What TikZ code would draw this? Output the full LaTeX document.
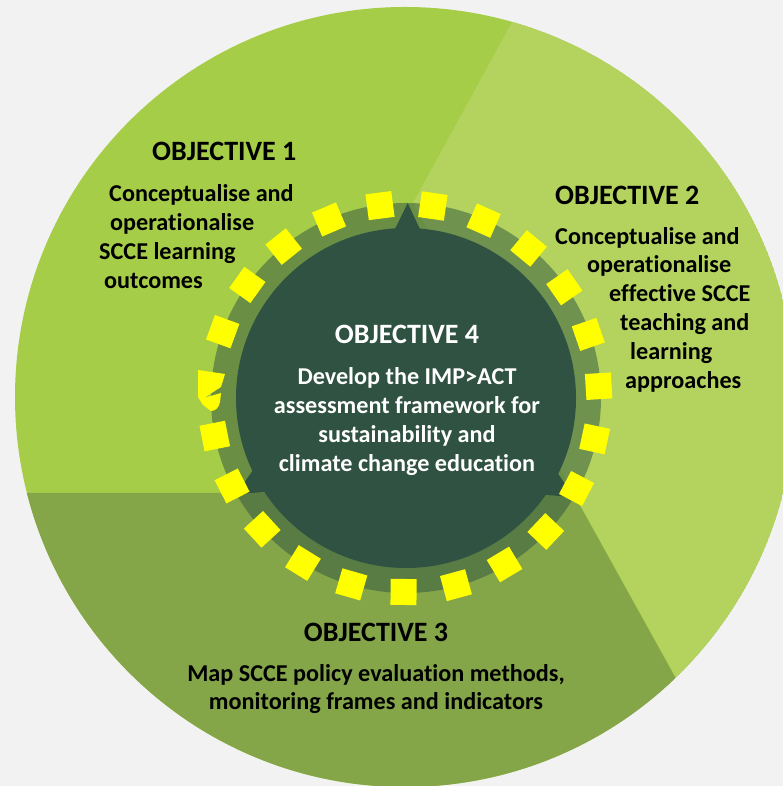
\documentclass[tikz,border=0pt]{standalone}
\usepackage{fontspec}
\setmainfont{Carlito}[Ligatures={NoCommon}]
\definecolor{bgc}{HTML}{F2F2F2}
\definecolor{objone}{HTML}{A6CD48}
\definecolor{objtwo}{HTML}{B3D35E}
\definecolor{objthree}{HTML}{84A648}
\definecolor{dkg}{HTML}{2F5242}
\definecolor{ylw}{HTML}{FFFF00}
\tikzset{
  ttl/.style={font=\fontsize{28}{32}\selectfont\bfseries, inner sep=0pt},
  body/.style={font=\fontsize{24.2}{29}\selectfont\bfseries, inner sep=0pt},
  ysq/.style={fill=ylw, minimum size=26pt, inner sep=0pt, rectangle},
}
\begin{document}
\begin{tikzpicture}[x=1pt,y=1pt]
\useasboundingbox (0,0) rectangle (783,786);
\fill[bgc] (0,0) rectangle (783,786);
\coordinate (C) at (406,388);
\begin{scope}
  \clip (405,389) circle (390);
  \fill[objone] (405,389) circle (390);
  \fill[objthree] (-10,293) -- (573,293) -- (1058,-582) -- (-10,-582) -- cycle;
  \fill[objtwo] (413,583) -- (689,1087) -- (1300,1087) -- (1300,-600) -- (995,-467) -- cycle;
\end{scope}
% ring
\fill[dkg, opacity=0.5] (C) circle (195);
% dark disc with arrowheads
\fill[dkg] (C) circle (170);
\foreach \t in {89.5,209.5,329.4}{
  \fill[dkg] ([shift={(\t:195)}]C) -- ([shift={(\t+4.7:167)}]C) -- ([shift={(\t-4.7:167)}]C) -- cycle;
}
% yellow dashes
\foreach \k in {0,...,22}{
  \ifnum\k=5\relax\else
  \pgfmathsetmacro\a{97.4+\k*15.652}
  \node[ysq, rotate=\a] (sq\k) at ([shift={(\a:194)}]405,388) {};
  \fi
}
\fill[ylw] (198,416) -- (225,412) -- (221,399) -- (204,388) -- (221,393) -- (220,384)
  .. controls (219,378) and (215,375) .. (211,375) -- (203,381) -- (198,389) -- cycle;
% texts
\node[ttl, anchor=base west] (o1) at (152,625) {OBJECTIVE 1};
\node[body, anchor=base west] (o1a) at (109,584) {Conceptualise and};
\node[body, anchor=base west] (o1b) at (110,555) {operationalise};
\node[body, anchor=base west] (o1c) at (99,526.5) {SCCE learning};
\node[body, anchor=base west] (o1d) at (104,497.5) {outcomes};

\node[ttl, anchor=base west] (o2) at (555,581) {OBJECTIVE 2};
\node[body, anchor=base west] (o2a) at (555,541) {Conceptualise and};
\node[body, anchor=base west] (o2b) at (587,513) {operationalise};
\node[body, anchor=base west] (o2c) at (609,484) {effective SCCE};
\node[body, anchor=base west] (o2d) at (620,455) {teaching and};
\node[body, anchor=base west] (o2e) at (630,426) {learning};
\node[body, anchor=base west] (o2f) at (625,397) {approaches};

\node[ttl, anchor=base, white] (o4) at (407,442) {OBJECTIVE 4};
\node[body, anchor=base, white] (o4a) at (407,401.5) {Develop the IMP>ACT};
\node[body, anchor=base, white] (o4b) at (407,372.5) {assessment framework for};
\node[body, anchor=base, white] (o4c) at (407,343.5) {sustainability and};
\node[body, anchor=base, white] (o4d) at (407,314) {climate change education};

\node[ttl, anchor=base] (o3) at (376,144.5) {OBJECTIVE 3};
\node[body, anchor=base] (o3a) at (376,104) {Map SCCE policy evaluation methods,};
\node[body, anchor=base] (o3b) at (376,76.5) {monitoring frames and indicators};
\end{tikzpicture}
\end{document}
